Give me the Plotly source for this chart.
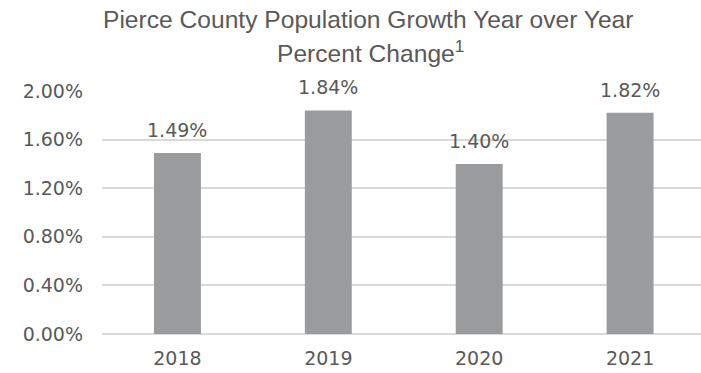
import plotly.graph_objects as go

years = ["2018", "2019", "2020", "2021"]
growth = [1.49, 1.84, 1.40, 1.82]
labels = ["1.49%", "1.84%", "1.40%", "1.82%"]
y_ticks = [0, 0.4, 0.8, 1.2, 1.6, 2.0]
y_tick_text = ["0.00%", "0.40%", "0.80%", "1.20%", "1.60%", "2.00%"]
title_lines = ["Pierce County Population Growth Year over Year", "Percent Change<sup>1</sup>"]

TXT = "#595959"
NUMFONT = "DejaVu Sans, sans-serif"
TFONT = "Liberation Sans, Arial, sans-serif"

T, B, H = 91, 39, 373
PH = H - T - B

def py(pix):
    return 1 + (T - pix) / PH

fig = go.Figure(go.Bar(
    x=years, y=growth,
    marker=dict(color="#9a9b9d", line=dict(width=0)),
    width=0.311, cliponaxis=False, hoverinfo="x+y",
))

# category axis: annotation x given as category index
value_notes = [
    dict(text=lab, x=i, y=val, xref="x", yref="y", xanchor="center",
         yanchor="bottom", yshift=10, showarrow=False,
         font=dict(size=19, color=TXT, family=NUMFONT))
    for i, (val, lab) in enumerate(zip(growth, labels))
]

title_notes = [
    dict(text=title_lines[0], xref="paper", yref="paper", x=(368 - 102) / 599,
         y=py(19), xanchor="center", yanchor="middle", showarrow=False,
         font=dict(size=24.6, color=TXT, family=TFONT)),
    dict(text=title_lines[1], xref="paper", yref="paper", x=(370 - 102) / 599,
         y=py(52), xanchor="center", yanchor="middle", showarrow=False,
         font=dict(size=24.6, color=TXT, family=TFONT)),
]

fig.update_layout(
    width=701, height=H,
    margin=dict(l=102, r=0, t=T, b=B),
    paper_bgcolor="white", plot_bgcolor="white",
    showlegend=False,
    font=dict(family=NUMFONT, color=TXT, size=19),
    annotations=title_notes + value_notes,
)
fig.update_xaxes(
    type="category", range=[-0.5, 3.47], showgrid=False, showline=False,
    zeroline=False, ticks="", tickfont=dict(size=19, color=TXT, family=NUMFONT),
    ticklabelstandoff=11,
)
fig.update_yaxes(
    range=[0, 2.0], tickvals=y_ticks, ticktext=y_tick_text,
    showgrid=True, gridcolor="#d9d9d9", gridwidth=1.5,
    zeroline=True, zerolinecolor="#d9d9d9", zerolinewidth=1.5,
    showline=False, ticks="", tickfont=dict(size=19, color=TXT, family=NUMFONT),
    ticklabelstandoff=18,
)

fig.write_html("out.html")
